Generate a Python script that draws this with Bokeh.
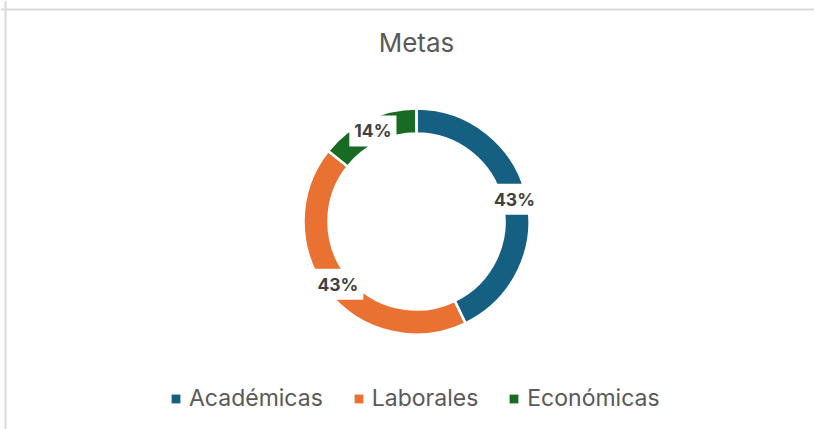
import math
from bokeh.plotting import figure
from bokeh.models import ColumnDataSource, Range1d, Legend, LegendItem, Label, Span
from bokeh.core.properties import value
from bokeh.embed import file_html
from bokeh.resources import INLINE

# ---- data ----
title_text = "Metas"
categories = ["Académicas", "Laborales", "Económicas"]
values = [3, 3, 1]
colors = ["#156082", "#E97132", "#196B24"]

# ---- layout (pixels) ----
W, H = 814, 429
cx, cy = 416, 208
r_in, r_out = 88, 113
FONT = "Inter"

total = sum(values)
fracs = [v / total for v in values]
starts, ends, mids = [], [], []
c = 0.0
for f in fracs:
    s = math.pi / 2 - 2 * math.pi * c
    c += f
    e = math.pi / 2 - 2 * math.pi * c
    starts.append(s)
    ends.append(e)
    mids.append((s + e) / 2)

r_lab = (r_in + r_out) / 2
src = ColumnDataSource(dict(
    cat=categories, val=values, color=colors,
    start=starts, end=ends,
    lx=[cx + r_lab * math.cos(m) for m in mids],
    ly=[cy + r_lab * math.sin(m) for m in mids],
    lab=[f"{round(f * 100)}%" for f in fracs],
))

p = figure(width=W, height=H, output_backend="svg", toolbar_location=None,
           x_range=Range1d(0, W), y_range=Range1d(0, H),
           min_border=0, outline_line_color=None, background_fill_color="white",
           border_fill_color="white")
p.axis.visible = False
p.grid.visible = False

wedges = p.annular_wedge(x=cx, y=cy, inner_radius=r_in, outer_radius=r_out,
                         start_angle="start", end_angle="end", direction="clock",
                         fill_color="color", line_color=None, source=src)
p.annular_wedge(x=cx, y=cy, inner_radius=r_in, outer_radius=r_out,
                start_angle="start", end_angle="end", direction="clock",
                fill_color=None, line_color="white", line_width=2.5, source=src)

p.text(x="lx", y="ly", text="lab", source=src,
       text_align="center", text_baseline="middle",
       text_font=value(FONT), text_font_size="17.5px", text_font_style="bold",
       text_color="#404040", background_fill_color="white", padding=5)

p.add_layout(Label(x=cx, y=H - 42, text=title_text, text_align="center",
                   text_baseline="middle", text_font=FONT, text_font_size="26px",
                   text_color="#595959"))

p.add_layout(Span(location=5, dimension="height", line_color="#D9D9D9", line_width=2))
p.add_layout(Span(location=H - 9, dimension="width", line_color="#D9D9D9", line_width=2))

items = [LegendItem(label=cat, renderers=[wedges], index=i) for i, cat in enumerate(categories)]
legend = Legend(items=items, orientation="horizontal", location=(170, 17),
                glyph_width=11, glyph_height=11, label_standoff=8, spacing=30,
                label_text_font=FONT, label_text_font_size="23px",
                label_text_color="#595959", label_height=26,
                padding=0, margin=0, border_line_color=None,
                background_fill_alpha=0)
p.add_layout(legend)

open("out.html", "w").write(file_html(p, INLINE))
